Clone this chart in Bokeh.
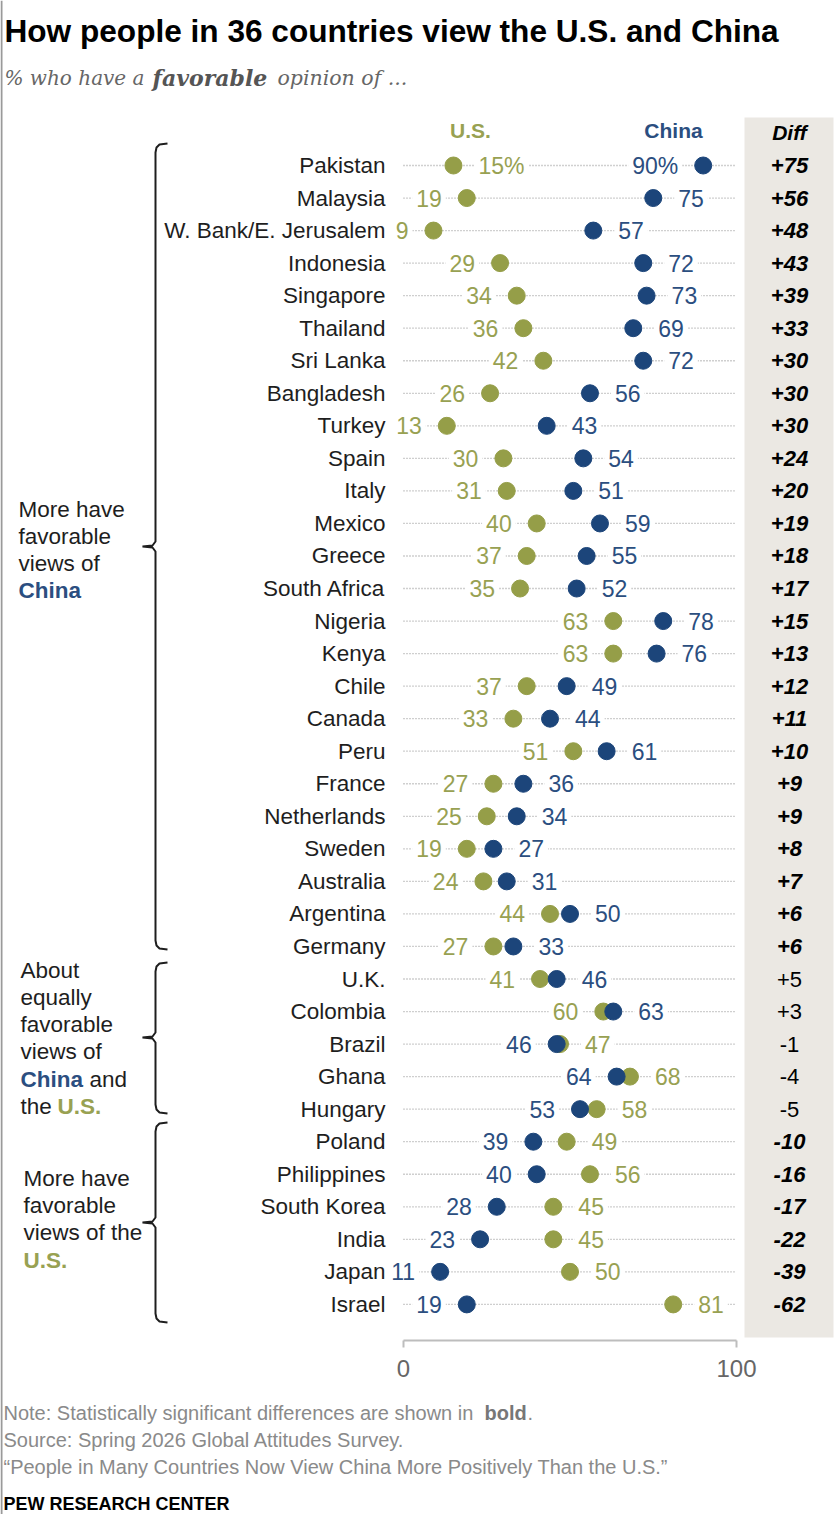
from bokeh.plotting import figure
from bokeh.models import Range1d, ColumnDataSource, Label
from bokeh.core.properties import value
from bokeh.embed import file_html
from bokeh.resources import INLINE

# ---- data -------------------------------------------------------------
countries = [
    "Pakistan", "Malaysia", "W. Bank/E. Jerusalem", "Indonesia", "Singapore",
    "Thailand", "Sri Lanka", "Bangladesh", "Turkey", "Spain", "Italy", "Mexico",
    "Greece", "South Africa", "Nigeria", "Kenya", "Chile", "Canada", "Peru",
    "France", "Netherlands", "Sweden", "Australia", "Argentina", "Germany",
    "U.K.", "Colombia", "Brazil", "Ghana", "Hungary", "Poland", "Philippines",
    "South Korea", "India", "Japan", "Israel",
]
us_fav = [15, 19, 9, 29, 34, 36, 42, 26, 13, 30, 31, 40, 37, 35, 63, 63, 37, 33,
          51, 27, 25, 19, 24, 44, 27, 41, 60, 47, 68, 58, 49, 56, 45, 45, 50, 81]
china_fav = [90, 75, 57, 72, 73, 69, 72, 56, 43, 54, 51, 59, 55, 52, 78, 76, 49, 44,
             61, 36, 34, 27, 31, 50, 33, 46, 63, 46, 64, 53, 39, 40, 28, 23, 11, 19]
not_significant = ["U.K.", "Colombia", "Brazil", "Ghana", "Hungary"]
labels_inside = ["Pakistan"]          # value labels drawn between the two dots
axis_ticks = [0, 100]

# ---- look -------------------------------------------------------------
US_DOT, CN_DOT = "#959e48", "#1c457a"
US_TXT, CN_TXT = "#98a152", "#2b4e80"
SANS = "Liberation Sans"
SERIF = "DejaVu Serif"
NOTE_GRAY = "#8a8a8a"

W, H = 840, 1514
X0, XS = 403.0, 3.33      # pixel of value 0, pixels per percentage point
Y0, YS = 165.0, 32.54     # pixel of first row, pixels per row


def dx(px):
    return (px - X0) / XS


def dy(py):
    return (py - Y0) / YS


p = figure(width=W, height=H,
           x_range=Range1d(dx(0), dx(W)), y_range=Range1d(dy(H), dy(0)),
           min_border=0, toolbar_location=None, output_backend="svg",
           x_axis_location=None, y_axis_location=None)
p.grid.visible = False
p.outline_line_color = None
p.background_fill_color = "white"
p.border_fill_color = "white"

n = len(countries)
rows = list(range(n))
diffs = [c - u for c, u in zip(china_fav, us_fav)]

# left edge rule
p.segment(x0=[dx(1)], x1=[dx(1)], y0=[dy(0)], y1=[dy(H)], line_color="#9a9a9a", line_width=2)

# shaded Diff column
p.quad(left=[dx(744)], right=[dx(833)], top=[dy(117)], bottom=[dy(1337)],
       fill_color="#ebe8e3", line_color=None)

# dotted guide for every row, 0..100
p.segment(x0=[axis_ticks[0]] * n, x1=[axis_ticks[-1]] * n, y0=rows, y1=rows,
          line_color="#a0a0a0", line_width=1.3, line_dash="1 2")

# value labels: lower value on the left of its dot, higher on the right
lx, ly, lt, lc, la, lo = [], [], [], [], [], []
for i, (name, u, c) in enumerate(zip(countries, us_fav, china_fav)):
    suffix = "%" if i == 0 else ""
    inside = name in labels_inside
    for v, col, other in ((u, US_TXT, c), (c, CN_TXT, u)):
        left_side = v < other
        if inside:
            left_side = not left_side
        lx.append(v)
        ly.append(i)
        lt.append(f"{v}{suffix}")
        lc.append(col)
        la.append("right" if left_side else "left")
        lo.append(-21 if left_side else 21)

lsrc = ColumnDataSource(dict(x=lx, y=ly, t=lt, c=lc, a=la, o=lo))
p.text(x="x", y="y", text="t", source=lsrc, text_color="c", text_align="a",
       x_offset="o", text_baseline="middle", text_font=value(SANS),
       text_font_size="23px", background_fill_color="white", padding=4)

# dots
p.scatter(x=us_fav, y=rows, size=17, fill_color=US_DOT, line_color=US_DOT)
p.scatter(x=china_fav, y=rows, size=17, fill_color=CN_DOT, line_color=CN_DOT)

# country names
p.text(x=[dx(385)] * n, y=rows, text=countries, text_align="right",
       text_baseline="middle", text_font=value(SANS), text_font_size="22.5px",
       text_color="#1e1e1e")

# Diff column
dsrc = ColumnDataSource(dict(
    x=[dx(789)] * n, y=rows, t=[f"{d:+d}" for d in diffs],
    s=["normal" if c in not_significant else "bold italic" for c in countries]))
p.text(x="x", y="y", text="t", source=dsrc, text_align="center",
       text_baseline="middle", text_font=value(SANS), text_font_size="22px",
       text_font_style="s", text_color="#000000")

# bottom scale
ax_y = dy(1340)
p.segment(x0=[axis_ticks[0]], x1=[axis_ticks[-1]], y0=[ax_y], y1=[ax_y],
          line_color="#bdbdbd", line_width=2)
p.segment(x0=axis_ticks, x1=axis_ticks, y0=[ax_y] * 2, y1=[dy(1347)] * 2,
          line_color="#bdbdbd", line_width=2)
p.text(x=axis_ticks, y=[dy(1368)] * 2, text=[str(t) for t in axis_ticks],
       text_align="center", text_baseline="middle", text_font=value(SANS),
       text_font_size="24px", text_color="#666666")

# group brackets (top, notch, bottom in pixel rows)
brackets = [(143, 546, 949), (962, 1037, 1113), (1122, 1222, 1322)]
bxs, bys = [], []
for T, M, B in brackets:
    px_ = [167, 159, 156, 155, 155, 152, 142, 152, 155, 155, 156, 159, 167]
    py_ = [T, T + 1, T + 4, T + 9, M - 5, M - 1, M, M + 1, M + 5, B - 9, B - 4, B - 1, B]
    bxs.append([dx(v) for v in px_])
    bys.append([dy(v) for v in py_])
p.multi_line(xs=bxs, ys=bys, line_color="#1e1e1e", line_width=2)


def put(x, y, txt, size="22.5px", color="#1e1e1e", style="normal", font=SANS, align="left"):
    p.add_layout(Label(x=dx(x), y=dy(y), text=txt, text_font=font, text_font_size=size,
                       text_color=color, text_font_style=style, text_align=align,
                       text_baseline="middle"))


# column headers
put(470, 130, "U.S.", size="21px", color=US_TXT, style="bold", align="center")
put(673, 130, "China", size="21px", color=CN_TXT, style="bold", align="center")
put(789, 132, "Diff", size="21px", color="#000000", style="bold italic", align="center")

# group captions
for i, t in enumerate(["More have", "favorable", "views of"]):
    put(18, 509 + 27 * i, t)
put(18, 590, "China", color=CN_TXT, style="bold")

for i, t in enumerate(["About", "equally", "favorable", "views of"]):
    put(20, 970 + 27 * i, t)
put(20, 1079, "China", color=CN_TXT, style="bold")
put(89, 1079, "and")
put(20, 1106, "the")
put(57, 1106, "U.S.", color=US_TXT, style="bold")

for i, t in enumerate(["More have", "favorable", "views of the"]):
    put(23, 1178 + 27 * i, t)
put(23, 1260, "U.S.", color=US_TXT, style="bold")

# title and subtitle
put(4, 30, "How people in 36 countries view the U.S. and China", size="31.6px",
    color="#000000", style="bold")
put(4, 77, "% who have a", size="20px", color="#666666", style="italic", font=SERIF)
put(152, 77, "favorable", size="22px", color="#555555", style="bold italic", font=SERIF)
put(277, 77, "opinion of ...", size="20.5px", color="#666666", style="italic", font=SERIF)

# notes
put(3, 1412, "Note: Statistically significant differences are shown in", size="20px",
    color=NOTE_GRAY)
put(484, 1412, "bold", size="20px", color="#777777", style="bold")
put(527, 1412, ".", size="20px", color=NOTE_GRAY)
put(3, 1439, "Source: Spring 2026 Global Attitudes Survey.", size="20px", color=NOTE_GRAY)
put(3, 1466, "\u201cPeople in Many Countries Now View China More Positively Than the U.S.\u201d",
    size="20px", color=NOTE_GRAY)
put(3, 1503, "PEW RESEARCH CENTER", size="18px", color="#000000", style="bold")

open("out.html", "w").write(file_html(p, INLINE))
